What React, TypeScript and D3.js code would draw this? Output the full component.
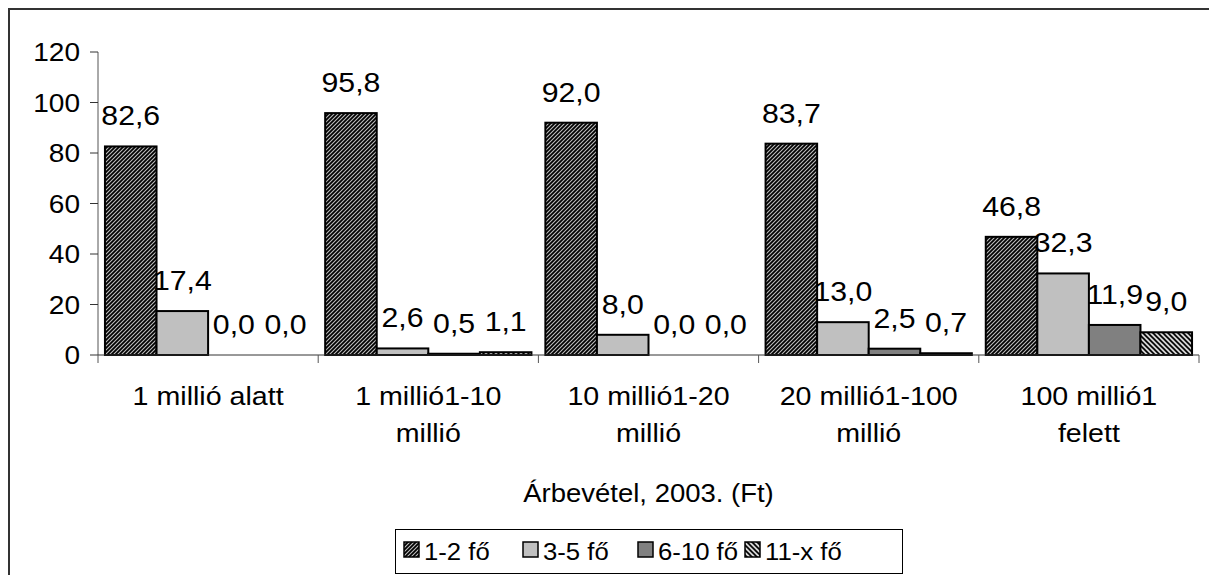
import React from "react";
import * as d3 from "d3";

const categories: string[][] = [
  ["1 millió alatt"],
  ["1 millió1-10", "millió"],
  ["10 millió1-20", "millió"],
  ["20 millió1-100", "millió"],
  ["100 millió1", "felett"],
];
const seriesNames = ["1-2 fő", "3-5 fő", "6-10 fő", "11-x fő"];
const s12 = [82.6, 95.8, 92.0, 83.7, 46.8];
const s35 = [17.4, 2.6, 8.0, 13.0, 32.3];
const s610 = [0.0, 0.5, 0.0, 2.5, 11.9];
const s11x = [0.0, 1.1, 0.0, 0.7, 9.0];
const yTicks = [0, 20, 40, 60, 80, 100, 120];
const axisTitle = "Árbevétel, 2003. (Ft)";

const seriesValues = [s12, s35, s610, s11x];
const fills = ["url(#hatchA)", "#c0c0c0", "#808080", "url(#hatchB)"];

const FONT = "'Liberation Sans', Arial, sans-serif";

function T({ x, y, size, anchor = "middle", sx = 1.1, children }: any) {
  return (
    <text
      transform={`translate(${x},${y}) scale(${sx},1)`}
      fontFamily={FONT}
      fontSize={size}
      textAnchor={anchor}
      fill="#000"
    >
      {children}
    </text>
  );
}

export default function App() {
  const W = 1209, H = 575;
  const left = 98, right = 1199, top = 52, bottom = 355;
  const y = d3.scaleLinear().domain([0, 120]).range([bottom, top]);
  const x0 = d3.scaleBand<number>().domain(d3.range(categories.length)).range([left, right]).padding(0);
  const x1 = d3
    .scaleBand<number>()
    .domain(d3.range(seriesNames.length))
    .range([0, x0.bandwidth()])
    .paddingInner(0)
    .paddingOuter(0.135);
  const fmt = (v: number) => v.toFixed(1).replace(".", ",");

  const legendX = [404, 523, 638, 745];

  return (
    <svg
      width={W}
      height={H}
      style={{ position: "fixed", left: 0, top: 0, background: "#fff" }}
    >
      <defs>
        <pattern id="hatchA" patternUnits="userSpaceOnUse" width="4" height="4">
          <rect width="4" height="4" fill="#000" />
          <path d="M-1,1 l2,-2 M0,4 l4,-4 M3,5 l2,-2" stroke="#bdbdbd" strokeWidth="1.1" />
        </pattern>
        <pattern id="hatchB" patternUnits="userSpaceOnUse" width="5" height="5">
          <rect width="5" height="5" fill="#d4d4d4" />
          <path d="M-1,4 l2,2 M0,0 l5,5 M4,-1 l2,2" stroke="#000" strokeWidth="1.6" />
        </pattern>
      </defs>
      <rect x={9} y={9} width={1400} height={800} fill="#fff" stroke="#333" strokeWidth={2} />

      {/* y axis */}
      <line x1={left} x2={left} y1={y(120)} y2={y(0)} stroke="#555" strokeWidth={1} />
      {yTicks.map((t) => (
        <g key={t}>
          <line x1={left - 8} x2={left} y1={y(t)} y2={y(t)} stroke="#333" strokeWidth={1} />
          <T x={80} y={y(t) + 9} size={25.5} anchor="end">
            {t}
          </T>
        </g>
      ))}

      {/* bars */}
      {categories.map((c, ci) =>
        seriesValues.map((vals, si) => {
          const v = vals[ci];
          const bx = (x0(ci) as number) + (x1(si) as number);
          const bw = x1.bandwidth();
          return (
            <g key={`${ci}-${si}`}>
              {v > 0 && (
                <rect
                  x={bx}
                  y={y(v)}
                  width={bw}
                  height={y(0) - y(v)}
                  fill={fills[si]}
                  stroke="#000"
                  strokeWidth={2}
                />
              )}
              <T x={bx + bw / 2} y={y(v) - 21} size={28} sx={1.08}>
                {fmt(v)}
              </T>
            </g>
          );
        })
      )}

      {/* x axis */}
      <line x1={left} x2={right} y1={bottom} y2={bottom} stroke="#333" strokeWidth={1} />
      {d3.range(categories.length + 1).map((i) => {
        const xx = left + i * x0.step();
        return <line key={i} x1={xx} x2={xx} y1={bottom} y2={bottom + 8} stroke="#555" strokeWidth={1} />;
      })}
      {categories.map((lines, ci) => (
        <g key={ci}>
          {lines.map((ln, li) => (
            <T key={li} x={(x0(ci) as number) + x0.bandwidth() / 2} y={405 + li * 37} size={26}>
              {ln}
            </T>
          ))}
        </g>
      ))}
      <T x={(left + right) / 2} y={502} size={25}>
        {axisTitle}
      </T>

      {/* legend */}
      <rect x={395.5} y={529.5} width={507} height={44} fill="#fff" stroke="#000" strokeWidth={1} />
      {seriesNames.map((n, i) => (
        <g key={n}>
          <rect x={legendX[i]} y={542} width={15} height={15} fill={fills[i]} stroke="#000" strokeWidth={1.5} />
          <T x={legendX[i] + 20} y={560} size={24.5} sx={1.05} anchor="start">
            {n}
          </T>
        </g>
      ))}
    </svg>
  );
}
